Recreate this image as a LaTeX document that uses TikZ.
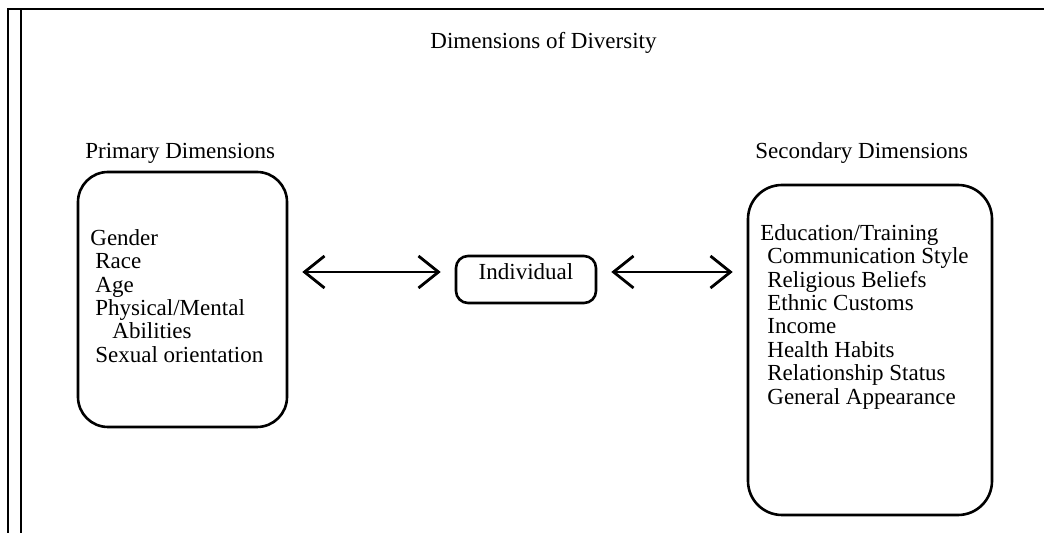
\documentclass[tikz,border=0pt]{standalone}
\usepackage{fontspec}
\setmainfont{Liberation Serif}
\usetikzlibrary{arrows.meta,positioning}

\begin{document}
\begin{tikzpicture}[x=0.5pt, y=-0.5pt,
  every node/.style={font=\fontsize{11.5}{11.7}\selectfont},
  heading/.style={anchor=base west, inner sep=0pt},
  dimbox/.style={draw, rounded corners=15pt, line width=1.3pt},
  itemlist/.style={anchor=north west, inner sep=0pt, align=left},
  twoway/.style={{Straight Barb[length=10pt,width=16pt]}-{Straight Barb[length=10pt,width=16pt]}, line width=1.4pt, shorten <=7pt, shorten >=7pt}]
  \useasboundingbox (0,0) rectangle (1044,533);

  % page frame
  \draw[line width=0.6pt] (8,533) -- (8,9) -- (1044,9);
  \draw[line width=0.8pt] (21,9) -- (21,533);

  \node[heading] (title) at (430,49) {Dimensions of Diversity};

  \node[heading] (primhead) at (85,159) {Primary Dimensions};
  \node[heading] (sechead) at (755,159) {Secondary Dimensions};

  \node[dimbox, minimum width=104.5pt, minimum height=127.5pt] (prim) at (182.5,299.5) {};
  \node[dimbox, rounded corners=17pt, minimum width=122pt, minimum height=165pt] (sec) at (870,350) {};
  \node[dimbox, rounded corners=6pt, minimum width=70pt, text height=10pt, text depth=9.5pt, inner ysep=2pt] (ind) at (526,279.5) {Individual};

  \node[itemlist] (primlist) at (90,229) {Gender\\
    \hspace*{2.5pt}Race\\
    \hspace*{2.5pt}Age\\
    \hspace*{2.5pt}Physical/Mental\\
    \hspace*{11pt}Abilities\\
    \hspace*{2.5pt}Sexual orientation};

  \node[itemlist] (seclist) at (760,224) {Education/Training\\
    \hspace*{3.5pt}Communication Style\\
    \hspace*{3.5pt}Religious Beliefs\\
    \hspace*{3.5pt}Ethnic Customs\\
    \hspace*{3.5pt}Income\\
    \hspace*{3.5pt}Health Habits\\
    \hspace*{3.5pt}Relationship Status\\
    \hspace*{3.5pt}General Appearance};

  \coordinate (axis) at (0,272);
  \draw[twoway] (prim.east |- axis) -- (ind.west |- axis);
  \draw[twoway] (ind.east |- axis) -- (sec.west |- axis);

\end{tikzpicture}
\end{document}
